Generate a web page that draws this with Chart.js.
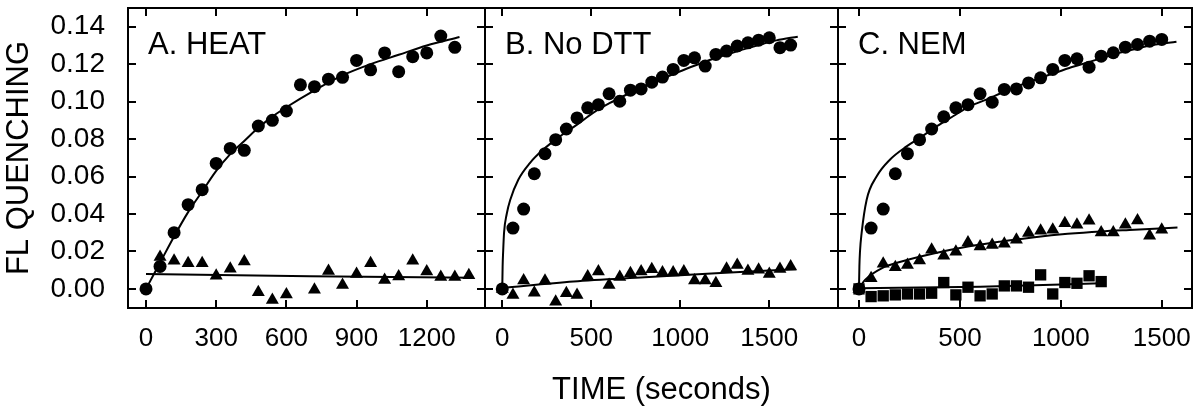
<!DOCTYPE html>
<html>
<head>
<meta charset="utf-8">
<script src="https://cdn.jsdelivr.net/npm/chart.js@4.4.1/dist/chart.umd.min.js"></script>
<style>
  body { margin: 0; background: #fff; }
  #wrap { position: relative; width: 1200px; height: 410px; }
  #wrap canvas { position: absolute; left: 0; top: 0; }
</style>
</head>
<body>
<div id="wrap">
  <canvas id="chartA" width="1200" height="410"></canvas>
  <canvas id="chartB" width="1200" height="410"></canvas>
  <canvas id="chartC" width="1200" height="410"></canvas>
</div>
<script>
// axis ticks
const yTicks = [0, 0.02, 0.04, 0.06, 0.08, 0.10, 0.12, 0.14];
const xTicksA = [0, 300, 600, 900, 1200];
const xTicksB = [0, 500, 1000, 1500];
const xTicksC = [0, 500, 1000, 1500];
const panelLabels = ["A. HEAT", "B. No DTT", "C. NEM"];

// A. HEAT
const circTimeA = [0, 60, 120, 180, 240, 300, 360, 420, 480, 540, 600, 660, 720, 780, 840, 900, 960, 1020, 1080, 1140, 1200, 1260, 1320];
const circA = [0, 0.012, 0.030, 0.045, 0.053, 0.067, 0.075, 0.074, 0.087, 0.090, 0.095, 0.109, 0.108, 0.112, 0.113, 0.122, 0.117, 0.126, 0.116, 0.124, 0.126, 0.135, 0.129];
const triTimeA = [60, 120, 180, 240, 300, 360, 420, 480, 540, 600, 720, 780, 840, 900, 960, 1020, 1080, 1140, 1200, 1260, 1320, 1380];
const triA = [0.0170, 0.0150, 0.0137, 0.0137, 0.0070, 0.0107, 0.0146, -0.0018, -0.0059, -0.0030, -0.0005, 0.0096, 0.0021, 0.0080, 0.0137, 0.0048, 0.0066, 0.0150, 0.0093, 0.0063, 0.0063, 0.0073];
const fitCircTimeA = [0, 60, 120, 180, 240, 300, 360, 420, 480, 540, 600, 720, 840, 960, 1080, 1200, 1340];
const fitCircA = [0, 0.014, 0.028, 0.041, 0.052, 0.063, 0.072, 0.079, 0.086, 0.092, 0.097, 0.106, 0.114, 0.120, 0.125, 0.130, 0.1345];
const fitTriTimeA = [0, 700, 1400];
const fitTriA = [0.0080, 0.0068, 0.0060];

// B. No DTT
const timeB = [0, 60, 120, 180, 240, 300, 360, 420, 480, 540, 600, 660, 720, 780, 840, 900, 960, 1020, 1080, 1140, 1200, 1260, 1320, 1380, 1440, 1500, 1560, 1620];
const circB = [0, 0.0325, 0.0426, 0.0615, 0.0722, 0.0797, 0.0854, 0.0913, 0.0967, 0.0984, 0.1042, 0.1002, 0.1061, 0.1068, 0.1104, 0.1131, 0.1172, 0.1220, 0.1234, 0.1190, 0.1252, 0.1270, 0.1297, 0.1314, 0.1328, 0.1341, 0.1288, 0.1302];
const triB = [0, -0.0032, 0.0045, -0.0020, 0.0044, -0.0068, -0.0023, -0.0032, 0.0066, 0.0093, 0.0021, 0.0064, 0.0084, 0.0093, 0.0105, 0.0087, 0.0087, 0.0093, 0.0045, 0.0045, 0.0030, 0.0108, 0.0128, 0.0095, 0.0102, 0.0080, 0.0106, 0.0119];
const fitCircTimeB = [0, 2, 5, 10, 25, 45, 90, 155, 230, 325, 420, 510, 605, 700, 790, 885, 980, 1075, 1165, 1260, 1355, 1450, 1540, 1660];
const fitCircB = [0, 0.012, 0.020, 0.030, 0.040, 0.0476, 0.0583, 0.0672, 0.0744, 0.0815, 0.0877, 0.0940, 0.0993, 0.1038, 0.1079, 0.1118, 0.1154, 0.1190, 0.1222, 0.1252, 0.1279, 0.1305, 0.1327, 0.1347];
const fitTriTimeB = [0, 400, 800, 1200, 1650];
const fitTriB = [0.0005, 0.0040, 0.0062, 0.0083, 0.0105];

// C. NEM
const timeC = [0, 60, 120, 180, 240, 300, 360, 420, 480, 540, 600, 660, 720, 780, 840, 900, 960, 1020, 1080, 1140, 1200, 1260, 1320, 1380, 1440, 1500];
const circC = [0, 0.0325, 0.0426, 0.0615, 0.0722, 0.0797, 0.0854, 0.0919, 0.0967, 0.0984, 0.1042, 0.0997, 0.1065, 0.1068, 0.1100, 0.1127, 0.1172, 0.1220, 0.1229, 0.1184, 0.1243, 0.1261, 0.1291, 0.1305, 0.1323, 0.1332];
const triC = [0, 0.0057, 0.0134, 0.0116, 0.0128, 0.0151, 0.0209, 0.0177, 0.0198, 0.0248, 0.0226, 0.0235, 0.0241, 0.0262, 0.0298, 0.0310, 0.0316, 0.0351, 0.0342, 0.0364, 0.0301, 0.0301, 0.0342, 0.0365, 0.0284, 0.0316];
const sqTimeC = [0, 60, 120, 180, 240, 300, 360, 420, 480, 540, 600, 660, 720, 780, 840, 900, 960, 1020, 1080, 1140, 1200];
const sqC = [0, -0.0041, -0.0037, -0.0032, -0.0027, -0.0027, -0.0023, 0.0034, -0.0032, 0.0009, -0.0037, -0.0027, 0.0016, 0.0016, 0.0009, 0.0075, -0.0027, 0.0034, 0.0030, 0.0070, 0.0039];
const fitCircTimeC = [0, 2, 5, 13, 38, 87, 153, 236, 301, 384, 466, 548, 631, 713, 795, 878, 960, 1042, 1125, 1207, 1290, 1372, 1455, 1573];
const fitCircC = [0, 0.012, 0.020, 0.0298, 0.0476, 0.0600, 0.0690, 0.0761, 0.0806, 0.0868, 0.0922, 0.0975, 0.1011, 0.1050, 0.1086, 0.1118, 0.1150, 0.1180, 0.1207, 0.1234, 0.1261, 0.1282, 0.1302, 0.1320];
const fitTriTimeC = [0, 30, 112, 211, 375, 540, 705, 870, 1034, 1199, 1364, 1578];
const fitTriC = [0.0004, 0.0048, 0.0110, 0.0146, 0.0190, 0.0226, 0.0253, 0.0276, 0.0294, 0.0307, 0.0316, 0.0328];
const fitSqTimeC = [0, 600, 1200];
const fitSqC = [0.0003, 0.0012, 0.0030];

const FONT = "'Liberation Sans', Arial, sans-serif";
const pts = (ts, vs) => ts.map((t, i) => ({ x: t, y: vs[i] }));

function marks(ts, vs, style, radius) {
  return { data: pts(ts, vs), pointStyle: style, pointRadius: radius, pointBackgroundColor: "#000",
           pointBorderColor: "#000", pointBorderWidth: 0, showLine: false };
}
function fit(ts, vs) {
  return { data: pts(ts, vs), showLine: true, pointRadius: 0, borderColor: "#000", borderWidth: 2,
           cubicInterpolationMode: "monotone" };
}

const framePlugin = {
  id: "frame",
  afterDraw(chart, args, opts) {
    const { ctx, chartArea: a, scales } = chart;
    const x = scales.x, y = scales.y;
    ctx.save();
    ctx.strokeStyle = "#000";
    ctx.lineWidth = 2;
    ctx.strokeRect(a.left, a.top, a.right - a.left, a.bottom - a.top);
    ctx.beginPath();
    x.ticks.forEach((t) => {
      const px = Math.round(x.getPixelForValue(t.value));
      ctx.moveTo(px, a.bottom); ctx.lineTo(px, a.bottom - 8);
      ctx.moveTo(px, a.top); ctx.lineTo(px, a.top + 8);
    });
    yTicks.forEach((v) => {
      const py = Math.round(y.getPixelForValue(v));
      ctx.moveTo(a.left, py); ctx.lineTo(a.left + 8, py);
      ctx.moveTo(a.right, py); ctx.lineTo(a.right - 8, py);
    });
    ctx.stroke();
    ctx.fillStyle = "#000";
    ctx.font = "31px " + FONT;
    ctx.textBaseline = "middle";
    ctx.fillText(opts.label, a.left + 20, a.top + 37);
    ctx.restore();
  },
};

function makeChart(id, cfg) {
  const xScale = {
    type: "linear", min: cfg.xMin, max: cfg.xMax,
    grid: { display: false }, border: { display: false },
    afterBuildTicks: (s) => { s.ticks = cfg.xTicks.map((v) => ({ value: v })); },
    afterFit: (s) => { s.height = 102; s.paddingLeft = 0; s.paddingRight = 0; },
    ticks: { font: { family: FONT, size: 26 }, color: "#000", padding: 7, callback: (v) => String(v) },
    title: cfg.xTitle
      ? { display: true, text: cfg.xTitle, font: { family: FONT, size: 31 }, color: "#000", padding: { top: 0, bottom: 1 } }
      : { display: false },
  };
  const yScale = {
    type: "linear", min: -0.0102, max: 0.150, display: cfg.showY,
    grid: { display: false }, border: { display: false },
    afterBuildTicks: (s) => { s.ticks = yTicks.map((v) => ({ value: v })); },
    afterFit: (s) => { s.width = cfg.showY ? 128 : 0; s.paddingTop = 0; s.paddingBottom = 0; },
    ticks: { font: { family: FONT, size: 28 }, color: "#000", padding: 15, callback: (v) => v.toFixed(2) },
    title: { display: true, text: "FL QUENCHING", font: { family: FONT, size: 31 }, color: "#000", padding: { top: 1, bottom: 0 } },
  };
  return new Chart(document.getElementById(id), {
    type: "scatter",
    data: { datasets: cfg.datasets },
    options: {
      responsive: false, animation: false, devicePixelRatio: 1,
      layout: { padding: cfg.padding },
      scales: { x: xScale, y: yScale },
      plugins: { legend: { display: false }, tooltip: { enabled: false }, frame: { label: cfg.label } },
    },
    plugins: [framePlugin],
  });
}

makeChart("chartA", {
  label: panelLabels[0], showY: true, xMin: -77, xMax: 1449, xTicks: xTicksA,
  padding: { left: 0, top: 8, right: 715, bottom: 0 },
  datasets: [
    fit(fitCircTimeA, fitCircA), fit(fitTriTimeA, fitTriA),
    marks(circTimeA, circA, "circle", 6.5), marks(triTimeA, triA, "triangle", 7.5),
  ],
});
makeChart("chartB", {
  label: panelLabels[1], showY: false, xMin: -97, xMax: 1886, xTicks: xTicksB, xTitle: "TIME (seconds)",
  padding: { left: 485, top: 8, right: 362, bottom: 0 },
  datasets: [
    fit(fitCircTimeB, fitCircB), fit(fitTriTimeB, fitTriB),
    marks(timeB, circB, "circle", 6.5), marks(timeB, triB, "triangle", 7.5),
  ],
});
makeChart("chartC", {
  label: panelLabels[2], showY: false, xMin: -104, xMax: 1650, xTicks: xTicksC,
  padding: { left: 838, top: 8, right: 7, bottom: 0 },
  datasets: [
    fit(fitCircTimeC, fitCircC), fit(fitTriTimeC, fitTriC), fit(fitSqTimeC, fitSqC),
    marks(timeC, circC, "circle", 6.5), marks(timeC, triC, "triangle", 7.5), marks(sqTimeC, sqC, "rect", 8),
  ],
});
</script>
</body>
</html>
